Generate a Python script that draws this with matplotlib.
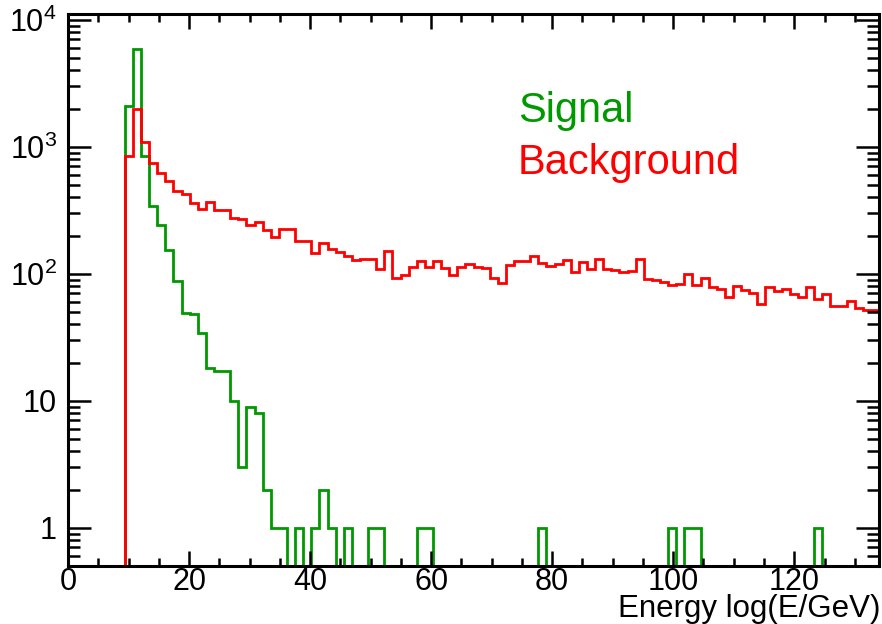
import numpy as np
import matplotlib
matplotlib.use("Agg")
import matplotlib.pyplot as plt
from matplotlib.ticker import LogLocator, MultipleLocator, NullFormatter

plt.rcParams['font.family'] = ['Liberation Sans', 'DejaVu Sans']
plt.rcParams['mathtext.fontset'] = 'custom'
plt.rcParams['mathtext.rm'] = 'Liberation Sans'
plt.rcParams['mathtext.it'] = 'Liberation Sans:italic'
plt.rcParams['mathtext.bf'] = 'Liberation Sans:bold'

# ---- data ----
x_min, x_max, n_bins = 0.0, 134.0, 100
signal = [0, 0, 0, 0, 0, 0, 0, 2080, 5900, 840,
          340, 243, 154, 88, 49, 48, 34, 18, 17, 17,
          10, 3, 9, 8, 2, 1, 1, 0, 1, 0,
          1, 2, 1, 0, 1, 0, 0, 1, 1, 0,
          0, 0, 0, 1, 1, 0, 0, 0, 0, 0,
          0, 0, 0, 0, 0, 0, 0, 0, 1, 0,
          0, 0, 0, 0, 0, 0, 0, 0, 0, 0,
          0, 0, 0, 0, 1, 0, 1, 1, 0, 0,
          0, 0, 0, 0, 0, 0, 0, 0, 0, 0,
          0, 0, 1, 0, 0, 0, 0, 0, 0, 0]
background = [0, 0, 0, 0, 0, 0, 0, 850, 2000, 1090,
              744, 621, 533, 450, 424, 360, 325, 365, 315, 320,
              274, 268, 243, 254, 222, 194, 226, 226, 180, 180,
              147, 175, 156, 148, 139, 129, 130, 130, 109, 150,
              93, 98, 114, 125, 114, 126, 112, 97, 114, 120,
              114, 111, 93, 84, 118, 125, 125, 139, 122, 116,
              119, 128, 104, 124, 109, 131, 109, 108, 104, 106,
              131, 91, 90, 86, 81, 83, 100, 81, 93, 78,
              76, 66, 80, 74, 70, 58, 78, 73, 76, 69,
              66, 78, 63, 69, 56, 56, 61, 54, 52, 52]
y_ticks = [1, 10, 100, 1000, 10000]
y_tick_labels = ['1', '10', r'$10^{2}$', r'$10^{3}$', r'$10^{4}$']
x_ticks = [0, 20, 40, 60, 80, 100, 120]
legend_labels = ['Signal', 'Background']
x_title = 'Energy log(E/GeV)'

green = '#009900'
red = '#ff0000'
y_lo, y_hi = 0.5, 11100

edges = np.linspace(x_min, x_max, n_bins + 1)
sig = np.asarray(signal, float)
bkg = np.asarray(background, float)
sig_d = np.where(sig > 0, sig, y_lo)
bkg_d = np.where(bkg > 0, bkg, y_lo)

fig = plt.figure(figsize=(8.82, 6.24), dpi=100)
ax = fig.add_axes([68/882, 1-566/624, (879-68)/882, (566-14)/624])

ax.stairs(sig_d, edges, baseline=None, color=green, lw=2.0)
ax.stairs(bkg_d, edges, baseline=None, color=red, lw=2.0)

ax.set_yscale('log')
ax.set_xlim(x_min, x_max)
ax.set_ylim(y_lo, y_hi)

ax.set_xticks(x_ticks)
ax.xaxis.set_minor_locator(MultipleLocator(5))
ax.set_yticks(y_ticks)
ax.set_yticklabels(y_tick_labels)
ax.yaxis.set_minor_locator(LogLocator(base=10, subs=np.arange(2, 10)))
ax.yaxis.set_minor_formatter(NullFormatter())

for s in ax.spines.values():
    s.set_linewidth(2.2)
ax.tick_params(axis='both', which='both', direction='in', top=True, right=True,
               width=1.8, labelsize=22)
ax.tick_params(axis='x', which='major', length=11, pad=1)
ax.tick_params(axis='x', which='minor', length=5.5)
ax.tick_params(axis='y', which='major', length=16.5, pad=8)
ax.tick_params(axis='y', which='minor', length=8.5)

fig.text(880/882, 1-617/624, x_title, ha='right', va='baseline', fontsize=22.5)
fig.text(518/882, 1-122/624, legend_labels[0], color=green, ha='left',
         va='baseline', fontsize=30)
fig.text(518/882, 1-174/624, legend_labels[1], color=red, ha='left',
         va='baseline', fontsize=30)

fig.savefig('out.png', dpi=100)
